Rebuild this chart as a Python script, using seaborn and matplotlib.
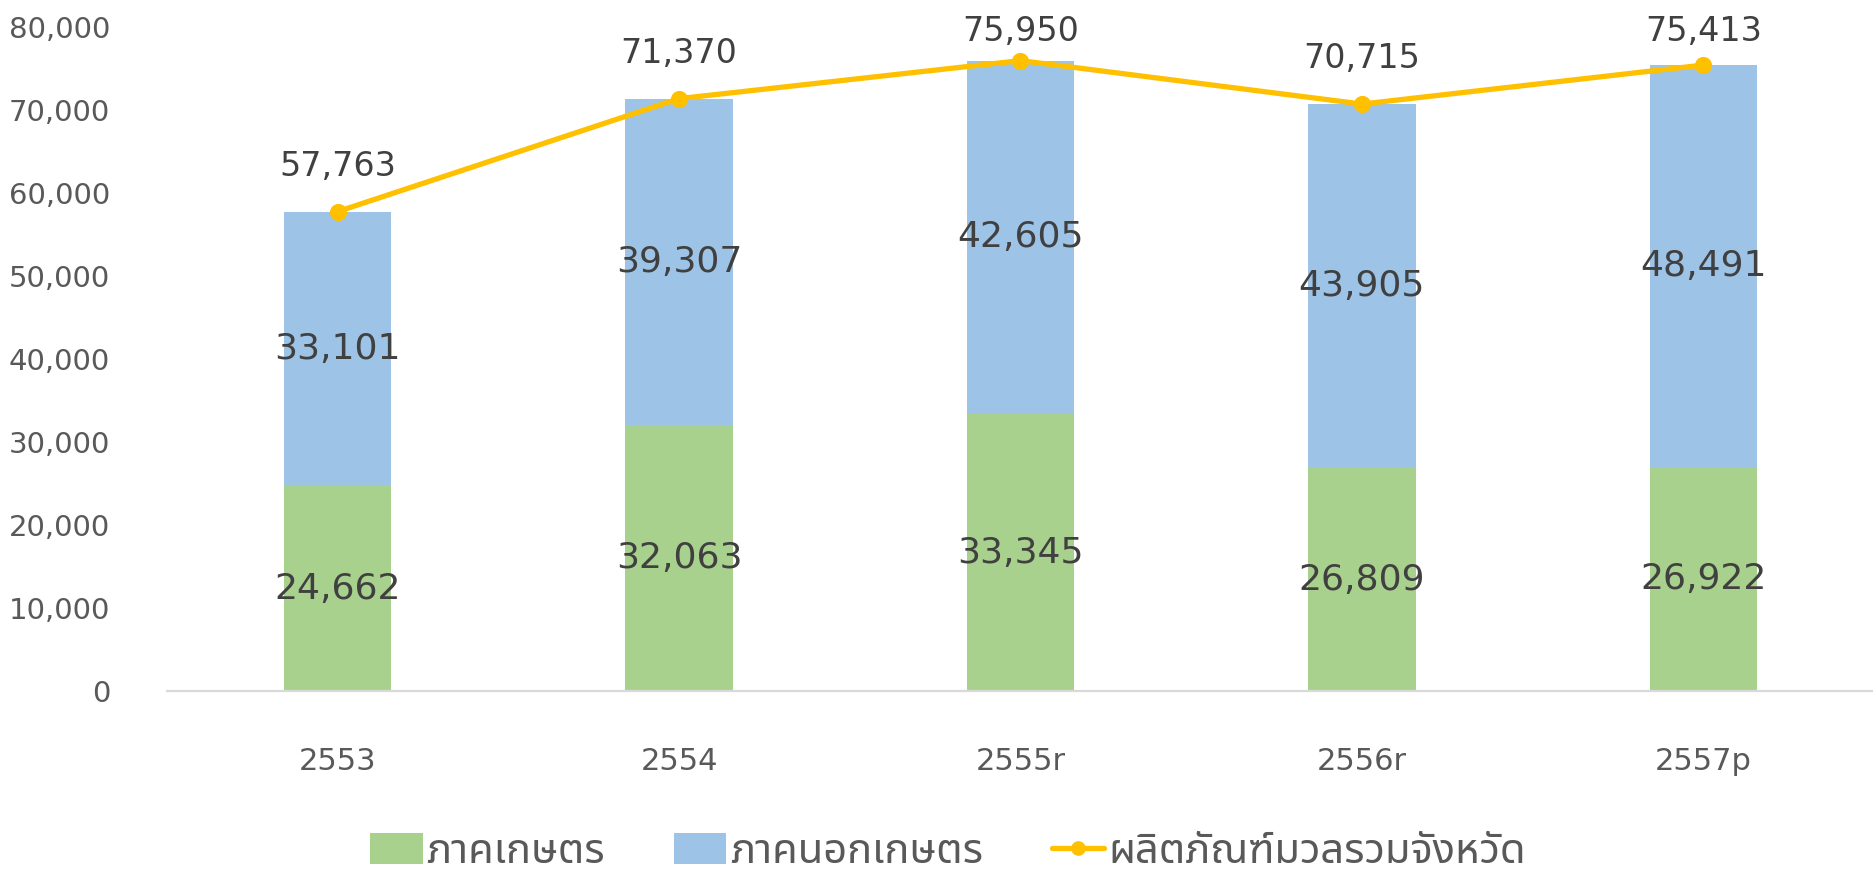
import matplotlib
matplotlib.use("Agg")
import matplotlib.pyplot as plt
from matplotlib.patches import Patch
from matplotlib.lines import Line2D
import numpy as np
import pandas as pd
import seaborn as sns

years = ["2553", "2554", "2555r", "2556r", "2557p"]
agri = [24662, 32063, 33345, 26809, 26922]
non_agri = [33101, 39307, 42605, 43905, 48491]
total = [57763, 71370, 75950, 70715, 75413]
labels = ["ภาคเกษตร", "ภาคนอกเกษตร", "ผลิตภัณฑ์มวลรวมจังหวัด"]

green = "#A9D18E"
blue = "#9DC3E6"
gold = "#FFC000"

sns.set_theme(style = "white")
plt.rcParams["font.family"] = ["DejaVu Sans", "Noto Sans Thai"]

df = pd.DataFrame({"year": years, "agri": agri, "non_agri": non_agri,
                   "total": total})

fig = plt.figure(figsize = (18.74, 8.72), dpi = 100)
ax = fig.add_axes([167 / 1874, 181 / 872, 1 - 167 / 1874, 664 / 872])

sns.barplot(data = df, x = "year", y = "agri", color = green, width = 0.315,
            saturation = 1, linewidth = 0, ax = ax)
sns.barplot(data = df, x = "year", y = "non_agri", color = blue, width = 0.315,
            saturation = 1, linewidth = 0, bottom = df["agri"], ax = ax)
sns.pointplot(data = df, x = "year", y = "total", color = gold, errorbar = None,
              markers = "o", markersize = 9.5, linewidth = 3.8, ax = ax)

# value labels
for i in range(len(years)):
    ax.text(i, agri[i] / 2, f"{agri[i]:,}", ha = "center", va = "center",
            fontsize = 26, color = "#404040")
    ax.text(i, agri[i] + non_agri[i] / 2, f"{non_agri[i]:,}", ha = "center",
            va = "center", fontsize = 26, color = "#404040")
    ax.text(i, min(total[i] + 5475, 79400), f"{total[i]:,}", ha = "center",
            va = "center", fontsize = 24, color = "#404040")

ax.set_ylim(0, 80000)
ax.set_xlim(-0.5, 4.5)
ax.set_yticks(np.arange(0, 80001, 10000))
ax.yaxis.set_major_formatter(matplotlib.ticker.FuncFormatter(lambda v, p: f"{int(v):,}"))
ax.tick_params(axis = "y", labelsize = 21, labelcolor = "#595959", pad = 41, length = 0)
ax.tick_params(axis = "x", labelsize = 22, labelcolor = "#595959", pad = 40, length = 0)
ax.set_xlabel("")
ax.set_ylabel("")
for s in ["left", "right", "top"]:
    ax.spines[s].set_visible(False)
ax.spines["bottom"].set_color("#D9D9D9")
ax.spines["bottom"].set_linewidth(1.6)

handles = [
    Patch(facecolor = green, edgecolor = "none"),
    Patch(facecolor = blue, edgecolor = "none"),
    Line2D([], [], color = gold, linewidth = 3.8, marker = "o", markersize = 9.5),
]
fig.legend(handles, labels, loc = "center", bbox_to_anchor = (0.506, 0.024),
           ncol = 3, frameon = False, fontsize = 30, handlelength = 1.25,
           handleheight = 0.77, handletextpad = 0.1, columnspacing = 1.65,
           labelcolor = "#595959", borderpad = 0)

fig.savefig("out.png")
